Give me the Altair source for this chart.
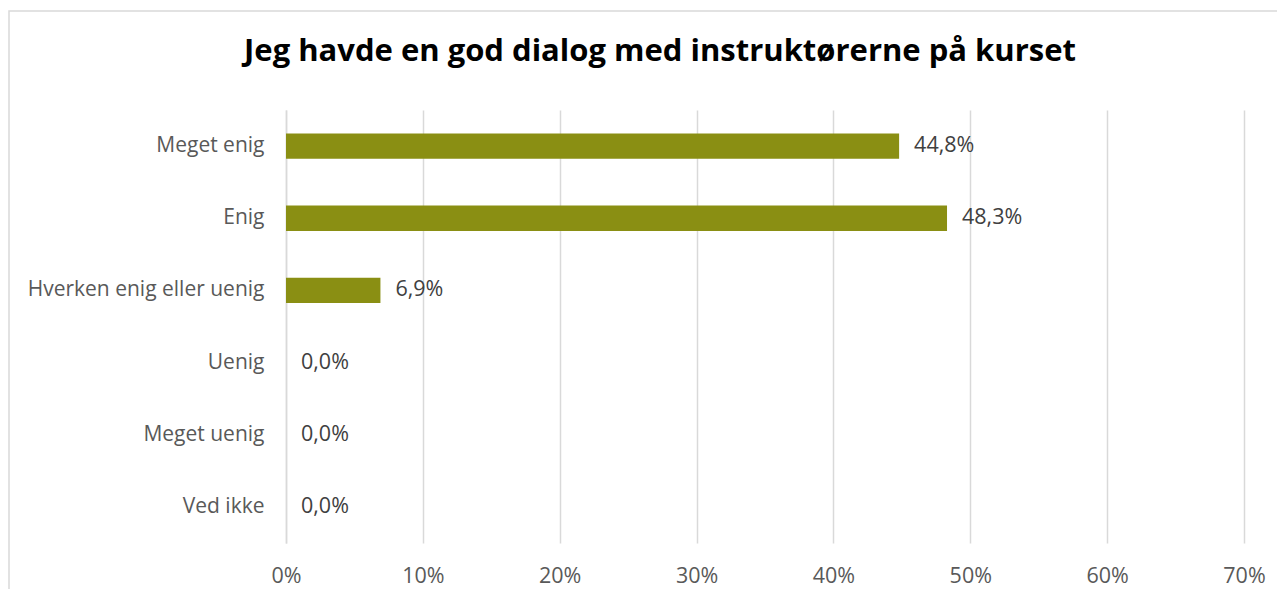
import altair as alt
import pandas as pd

categories = ["Meget enig", "Enig", "Hverken enig eller uenig", "Uenig", "Meget uenig", "Ved ikke"]
values = [44.8, 48.3, 6.9, 0.0, 0.0, 0.0]
labels = ["44,8%", "48,3%", "6,9%", "0,0%", "0,0%", "0,0%"]
tick_values = [0, 10, 20, 30, 40, 50, 60, 70]

df = pd.DataFrame({"cat": categories, "val": values, "lab": labels})

FONT = "Open Sans"
BAR = "#8A8F13"
FS = 21.5

x = alt.X("val:Q", scale=alt.Scale(domain=[0, 70], nice=False),
          axis=alt.Axis(values=tick_values, labelExpr="datum.value + '%'", title=None,
                        grid=True, gridColor="#d9d9d9", gridWidth=1.5, domain=False, ticks=False,
                        labelFlush=False,
                        labelFont=FONT, labelFontSize=FS, labelColor="#595959", labelPadding=22))
y = alt.Y("cat:N", sort=categories, scale=alt.Scale(paddingInner=0.65, paddingOuter=0.325),
          axis=alt.Axis(title=None, domain=True, domainColor="#d9d9d9", domainWidth=1.5, ticks=False,
                        labelFont=FONT, labelFontSize=21, labelColor="#595959", labelPadding=22,
                        labelLimit=0))

border = alt.Chart(df).mark_rect(fillOpacity=0, stroke="#d9d9d9", strokeWidth=1.5, clip=False).encode(
    x=alt.value(-277), x2=alt.value(1100), y=alt.value(-99), y2=alt.value(650)
).transform_filter("datum.cat == 'Meget enig'")

bars = alt.Chart(df).mark_bar(color=BAR).encode(x=x, y=y)
text = alt.Chart(df).mark_text(align="left", dx=15, font=FONT, fontSize=FS, color="#404040").encode(
    x="val:Q", y=alt.Y("cat:N", sort=categories), text="lab:N")

chart = alt.layer(border, bars, text).properties(
    width=958, height=433,
    title=alt.TitleParams("Jeg havde en god dialog med instruktørerne på kurset",
                          font=FONT, fontSize=31, fontWeight="bold", color="#000000",
                          anchor="middle", dx=-105, offset=-58),
    autosize=alt.AutoSizeParams(type="none"),
    padding={"left": 278, "top": 102, "right": 33, "bottom": 46},
).configure_view(stroke=None)

chart.save("out.html", embed_options={"renderer": "svg", "actions": False})
